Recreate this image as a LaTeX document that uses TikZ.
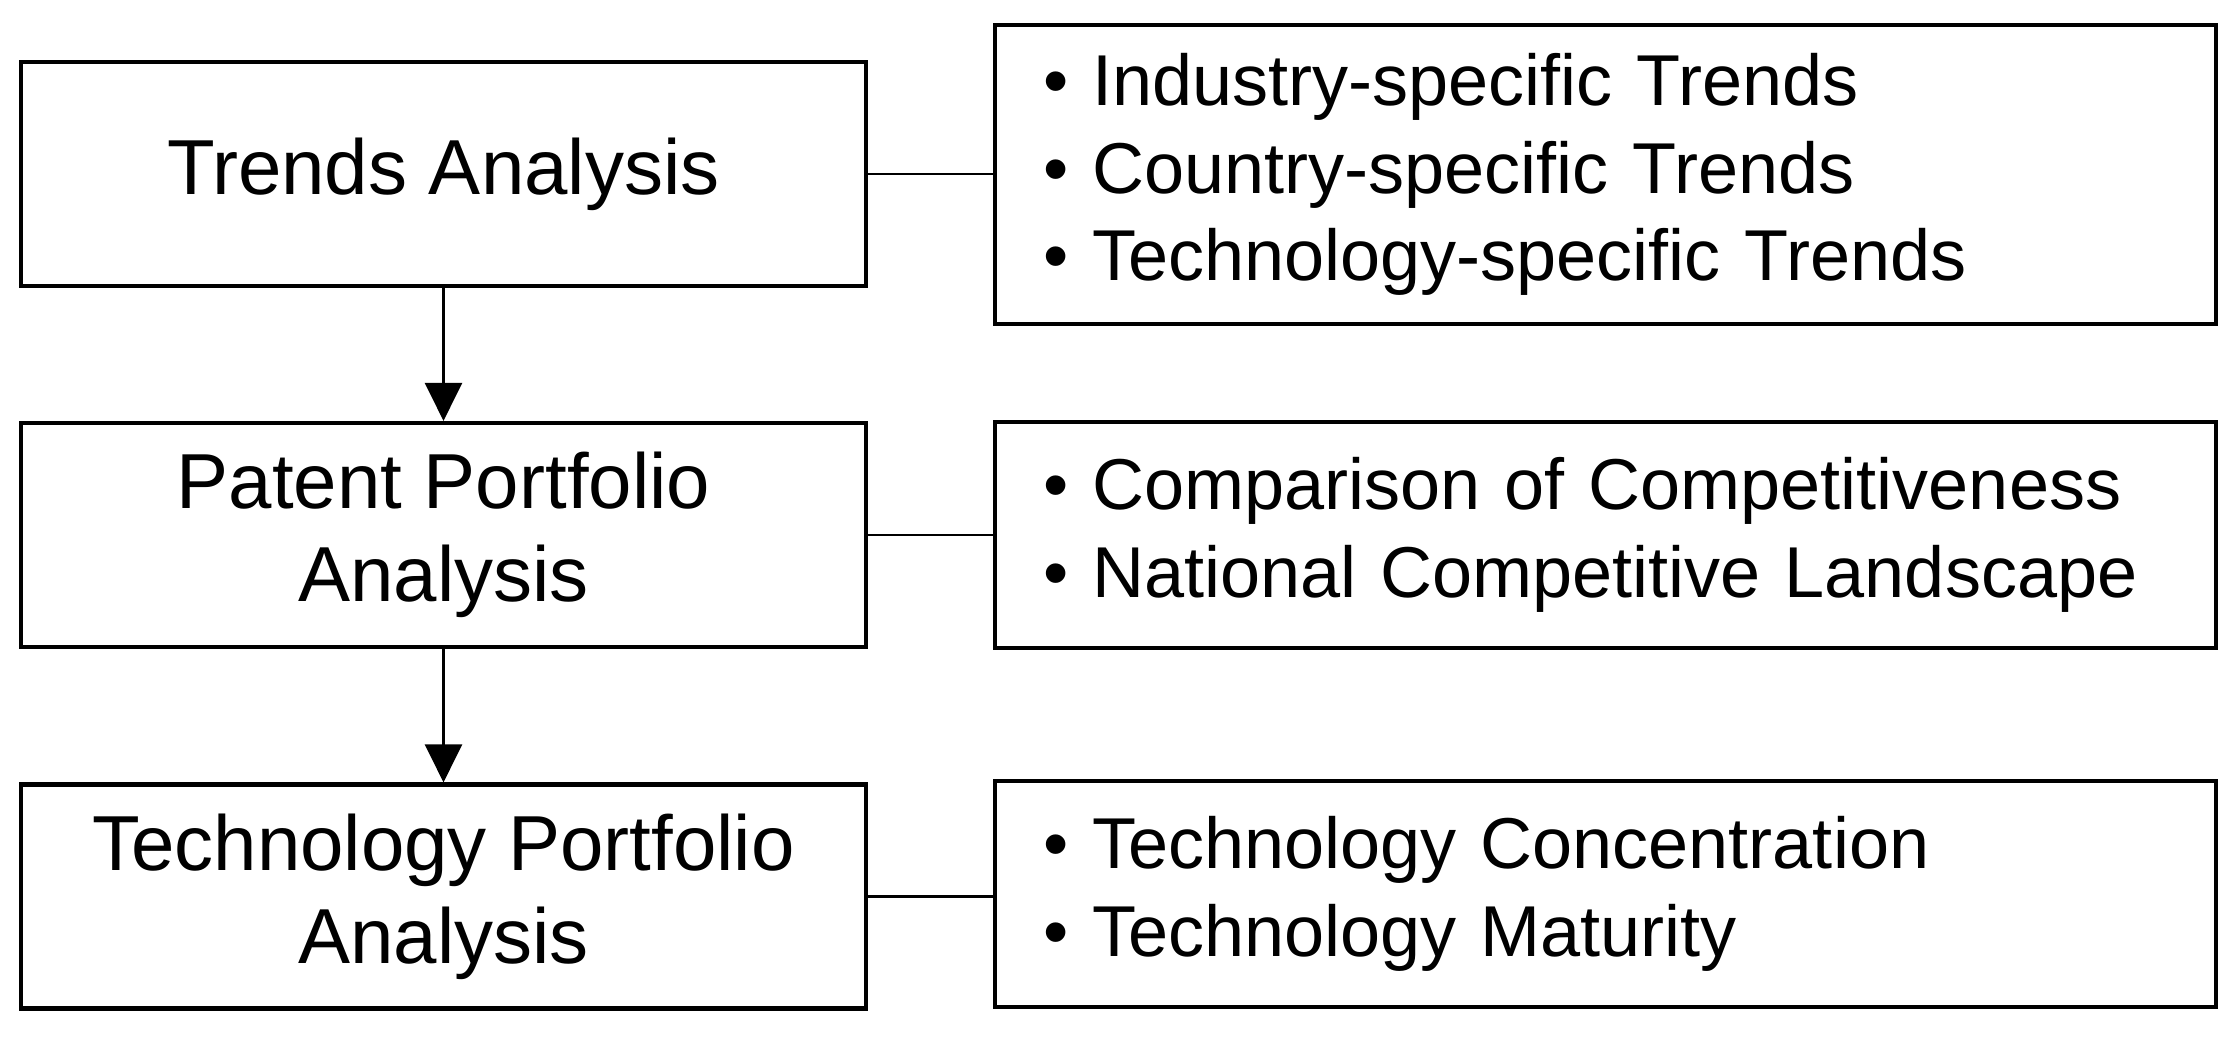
\documentclass[tikz,border=0pt]{standalone}
\usepackage{fontspec}
\setmainfont{Liberation Sans}
\usepackage{tikz}
\usetikzlibrary{positioning}
\usetikzlibrary{arrows.meta}
\usetikzlibrary{calc}

\begin{document}
\begin{tikzpicture}[x=0.1mm, y=-0.1mm,
    stage/.style={draw, line width=1.2pt, minimum width=84.5mm, minimum height=22.4mm,
        align=center, font=\fontsize{22.2}{26.4}\selectfont},
    detail/.style={draw, line width=1.2pt, text width=112.5mm, inner xsep=4.8mm,
        minimum height=22.6mm, align=left, font=\fontsize{20.5}{24.9}\selectfont},
    link/.style={line width=0.7pt},
    flow/.style={line width=0.7pt, -{Triangle[length=3.8mm, width=3.7mm]}}]
			% Fix the size of the picture
			\useasboundingbox (0,0) rectangle (2225,1043);
			
			% Draw the analysis steps
			\node[stage] (trends) at (443.5,174) {Trends Analysis};
			\node[stage] (patent) at (443.5,535) {Patent Portfolio\\Analysis};
			\node[stage] (techno) at (443.5,896.5) {Technology Portfolio\\Analysis};
			
			% Draw the lists of details
			\node[detail, minimum height=29.9mm] (trendsList) at (1605.5,174.5)
			    {• Industry-specific Trends\\• Country-specific Trends\\• Technology-specific Trends};
			\node[detail] (patentList) at (1605.5,535)
			    {• Comparison of Competitiveness\\• National Competitive Landscape};
			\node[detail] (technoList) at (1605.5,894)
			    {• Technology Concentration\\• Technology Maturity};
			
			% Draw the lines
			\draw[flow] (trends) -- (patent);
			\draw[flow] (patent) -- (techno);
			\foreach \step/\list in {trends/trendsList, patent/patentList, techno/technoList}
			\draw[link] (\step.east) -- (\step.east -| \list.west);
\end{tikzpicture}
\end{document}
